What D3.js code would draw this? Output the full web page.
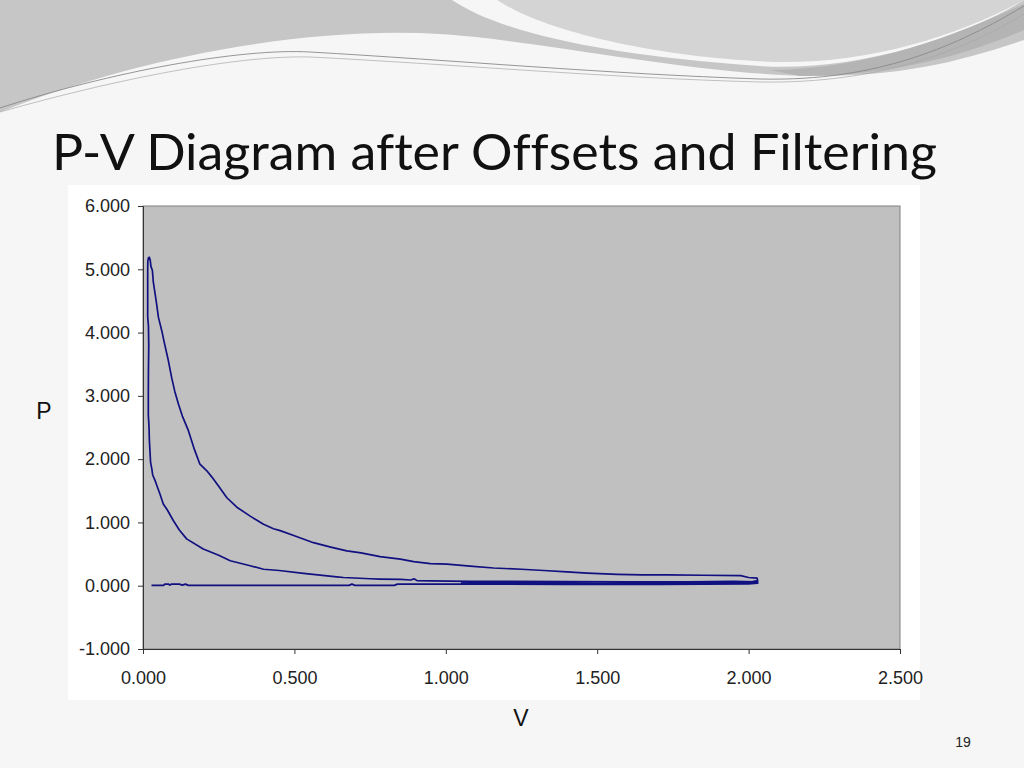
<!DOCTYPE html>
<html><head><meta charset="utf-8">
<script src="https://cdn.jsdelivr.net/npm/d3@7"></script>
<style>html,body{margin:0;padding:0;background:#f6f6f6;}svg{display:block;}</style>
</head><body>
<script>
// ---- data ----
const titleText = "P-V Diagram after Offsets and Filtering";
const xLabel = "V";
const yLabel = "P";
const pageNumber = "19";
const xTicks = [0, 0.5, 1.0, 1.5, 2.0, 2.5];
const yTicks = [-1, 0, 1, 2, 3, 4, 5, 6];
// cycle path: intake -> compression -> combustion peak -> expansion -> exhaust
const volume = [
  0.028,0.068,0.072,0.085,0.088,0.095,0.12,0.13,0.14,0.15,0.68,0.69,0.70,0.83,0.84,1.1,1.4,1.7,2.0,2.03,
  2.03,1.95,1.80,1.60,1.40,1.20,1.08,0.95,0.905,0.895,0.885,0.85,0.783,0.75,0.662,0.640,0.53,0.45,0.398,0.354,0.288,0.25,0.199,0.144,0.12,0.100,0.080,0.067,0.056,0.046,0.040,0.032,0.029,0.025,0.023,0.021,0.020,0.0176,0.0176,0.018,0.019,0.018,0.0155,0.0155,0.0155,0.016,0.018,0.021,0.024,0.026,
  0.031,0.034,0.040,0.045,0.051,0.062,0.070,0.084,0.095,0.105,0.117,0.13,0.150,0.17,0.188,0.21,0.227,0.25,0.277,0.31,0.354,0.398,0.431,0.453,0.50,0.563,0.62,0.673,0.72,0.783,0.85,0.894,0.949,1.004,1.08,1.158,1.25,1.323,1.40,1.467,1.566,1.65,1.731,1.85,1.974,2.00,2.028,2.03,
  2.00,1.90,1.70,1.50,1.30,1.10,1.05
];
const pressure = [
  0.005,0.005,0.025,0.025,0.01,0.025,0.025,0.01,0.025,0.005,0.005,0.025,0.005,0.005,0.025,0.025,0.02,0.02,0.03,0.04,
  0.06,0.07,0.06,0.06,0.065,0.07,0.07,0.075,0.08,0.11,0.09,0.10,0.105,0.11,0.13,0.14,0.195,0.24,0.26,0.316,0.395,0.48,0.58,0.74,0.88,1.03,1.20,1.29,1.45,1.58,1.66,1.75,1.85,1.95,2.13,2.30,2.50,2.70,3.00,3.40,3.80,4.10,4.25,4.60,5.00,5.13,5.18,5.19,5.14,5.05,
  4.98,4.80,4.61,4.45,4.24,4.03,3.85,3.55,3.28,3.07,2.87,2.68,2.45,2.15,1.92,1.82,1.72,1.57,1.39,1.24,1.10,0.97,0.90,0.87,0.79,0.68,0.61,0.55,0.52,0.46,0.42,0.38,0.35,0.34,0.31,0.28,0.26,0.24,0.22,0.20,0.18,0.17,0.17,0.165,0.16,0.13,0.12,0.08,
  0.05,0.04,0.035,0.035,0.04,0.04,0.045
];

const W = 1024, H = 768;
const svg = d3.select("body").append("svg").attr("width", W).attr("height", H);

// ---- slide decoration ----
svg.append("rect").attr("width", W).attr("height", H).attr("fill", "#f6f6f6");
const deco = svg.append("g");
deco.append("path").attr("fill", "#c6c6c6")
  .attr("d", "M0,0 H452 C500,32 600,55 760,66 C850,72 960,40 1024,0 V40 C960,62 900,76 820,76 C700,76 540,40 440,34 C300,26 130,60 0,112 Z");
deco.append("path").attr("fill", "#d4d4d4")
  .attr("d", "M497,0 H1024 C960,35 870,64 775,62 C660,58 545,32 497,0 Z");
deco.append("path").attr("fill", "#b4b4b4")
  .attr("d", "M770,70 C880,68 960,32 1024,4 V30 C955,60 880,76 800,76 Z");
deco.append("path").attr("fill", "none").attr("stroke", "#8a8a8a").attr("stroke-width", 0.9)
  .attr("d", "M0,108 C110,72 240,48 310,52 C450,60 610,74 760,79 C880,82 960,44 1024,6");
deco.append("path").attr("fill", "none").attr("stroke", "#a8a8a8").attr("stroke-width", 0.7)
  .attr("d", "M0,112 C120,78 240,55 310,57 C450,64 610,78 760,82 C880,84 965,50 1024,14");

// ---- title ----
svg.append("text").attr("x", 52).attr("y", 170)
  .attr("font-family", "Lato, 'Open Sans', sans-serif").attr("font-size", 50)
  .style("font-variant-ligatures", "none")
  .attr("fill", "#111").attr("textLength", 885).attr("lengthAdjust", "spacingAndGlyphs")
  .text(titleText);

// ---- chart box ----
svg.append("rect").attr("x", 68).attr("y", 185).attr("width", 852).attr("height", 515).attr("fill", "#ffffff");

const x = d3.scaleLinear().domain([0, 2.5]).range([143, 900]);
const y = d3.scaleLinear().domain([-1, 6]).range([649, 206]);

svg.append("rect").attr("x", x(0)).attr("y", y(6)).attr("width", x(2.5) - x(0)).attr("height", y(-1) - y(6))
  .attr("fill", "#c0c0c0").attr("stroke", "#808080").attr("stroke-width", 1);

const fmt = v => v.toFixed(3);
const yAxis = svg.append("g").attr("transform", `translate(${x(0)},0)`)
  .call(d3.axisLeft(y).tickValues(yTicks).tickFormat(fmt).tickSize(5).tickPadding(8));
const xAxis = svg.append("g").attr("transform", `translate(0,${y(-1)})`)
  .call(d3.axisBottom(x).tickValues(xTicks).tickFormat(fmt).tickSize(5).tickPadding(17));
[yAxis, xAxis].forEach(a => {
  a.select(".domain").attr("stroke", "#333");
  a.selectAll(".tick line").attr("stroke", "#333");
  a.selectAll("text").attr("font-family", "'Liberation Sans', Arial, sans-serif")
    .attr("font-size", 18).attr("fill", "#222");
});

// ---- data line ----
const pts = volume.map((v, i) => [v, pressure[i]]);
svg.append("path").datum(pts)
  .attr("fill", "none").attr("stroke", "#101080").attr("stroke-width", 1.7).attr("stroke-linejoin", "round")
  .attr("d", d3.line().x(d => x(d[0])).y(d => y(d[1])));

// ---- axis titles ----
svg.append("text").attr("x", 44).attr("y", 413).attr("text-anchor", "middle").attr("dominant-baseline", "middle")
  .attr("font-family", "'Liberation Sans', Arial, sans-serif").attr("font-size", 23).attr("fill", "#111").text(yLabel);
svg.append("text").attr("x", 521).attr("y", 720).attr("text-anchor", "middle").attr("dominant-baseline", "middle")
  .attr("font-family", "'Liberation Sans', Arial, sans-serif").attr("font-size", 23).attr("fill", "#111").text(xLabel);

svg.append("text").attr("x", 963).attr("y", 747).attr("text-anchor", "middle")
  .attr("font-family", "'Liberation Sans', Arial, sans-serif").attr("font-size", 14).attr("fill", "#222").text(pageNumber);
</script>
</body></html>
